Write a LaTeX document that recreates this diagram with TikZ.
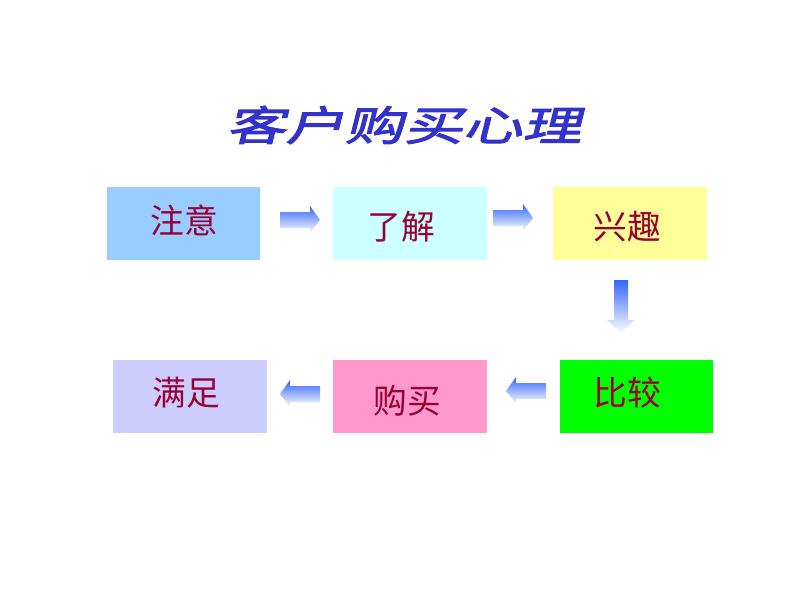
\documentclass[tikz,border=0pt]{standalone}
\usepackage{fontspec}
\newfontfamily\cjk{Noto Sans CJK SC}
\newfontfamily\cjktitle[FakeSlant=0.25,FakeStretch=1.45,FakeBold=2.6]{Noto Sans CJK SC}
\usetikzlibrary{positioning}

\definecolor{titleblue}{RGB}{51,51,204}
\definecolor{wordred}{RGB}{153,0,51}
\definecolor{flowblue}{RGB}{51,102,255}
\definecolor{stepA}{RGB}{153,204,255}
\definecolor{stepB}{RGB}{204,255,255}
\definecolor{stepC}{RGB}{255,255,153}
\definecolor{stepD}{RGB}{204,204,255}
\definecolor{stepE}{RGB}{255,153,204}
\definecolor{stepF}{RGB}{0,255,0}

\tikzset{
	stagebox/.style={minimum width=3.83cm,minimum height=1.83cm,inner sep=0pt},
	stageword/.style={text=wordred,font=\cjk\fontsize{24}{24}\selectfont,inner sep=0pt},
	flow/.style={top color=flowblue,bottom color=white},
	rarrow/.pic={\shade[flow] (0,-8) -- (30,-8) -- (30,-14) -- (40,0) -- (30,13) -- (30,8) -- (0,8) -- cycle;}
}

\begin{document}
\begin{tikzpicture}[x=0.025cm,y=-0.025cm]
	\useasboundingbox[fill=white] (0,0) rectangle (800,600);

	\node[text=titleblue,font=\cjktitle\fontsize{29}{29}\selectfont,inner sep=0pt] (title) at (404,125) {客户购买心理};

	\node[stagebox,fill=stepA] (attention) at (183.5,223.5) {};
	\node[stagebox,fill=stepB] (understand) at (410,223.5) {};
	\node[stagebox,fill=stepC] (interest) at (630,223.5) {};
	\node[stagebox,fill=stepD] (satisfy) at (190,396.5) {};
	\node[stagebox,fill=stepE] (purchase) at (410,396.5) {};
	\node[stagebox,fill=stepF] (compare) at (636.5,396.5) {};

	\node[stageword] (attentionword) at (184,220) {注意};
	\node[stageword] (understandword) at (401,227) {了解};
	\node[stageword] (interestword) at (627,227) {兴趣};
	\node[stageword] (satisfyword) at (186,393) {满足};
	\node[stageword] (purchaseword) at (407,401) {购买};
	\node[stageword] (compareword) at (627,393) {比较};

	\pic at (280,220) {rarrow};
	\pic at (493,218) {rarrow};
	\pic[xscale=-1] at (320,394) {rarrow};
	\pic[xscale=-1] at (546,391) {rarrow};
	\shade[flow] (614,280) -- (628,280) -- (628,320) -- (634,320) -- (621,333) -- (607,320) -- (614,320) -- cycle;
\end{tikzpicture}
\end{document}
